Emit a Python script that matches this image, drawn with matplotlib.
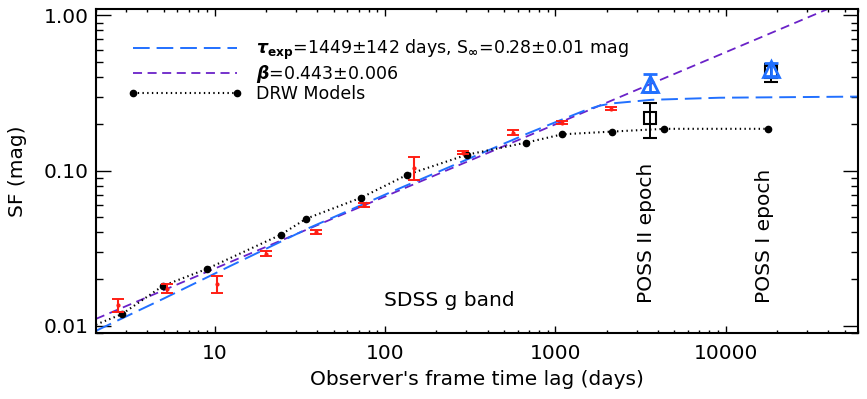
import numpy as np
import matplotlib
matplotlib.use('Agg')
import matplotlib.pyplot as plt
import matplotlib.transforms as mtransforms
from matplotlib.lines import Line2D
from matplotlib.ticker import FixedLocator, FixedFormatter, LogLocator, NullFormatter

# SDSS g band measured structure function (red error bars)
sdss_t = [2.69, 5.22, 10.3, 20.0, 39.3, 75.2, 148, 288, 566, 1100, 2135]
sdss_sf = [0.0137, 0.0173, 0.0187, 0.0292, 0.0404, 0.0603, 0.1045, 0.1306, 0.176, 0.204, 0.251]
sdss_lo = [0.0014, 0.0010, 0.0024, 0.0012, 0.0011, 0.0016, 0.0170, 0.0032, 0.0055, 0.0055, 0.0060]
sdss_hi = [0.0012, 0.0014, 0.0023, 0.0012, 0.0011, 0.0016, 0.0185, 0.0032, 0.0055, 0.0055, 0.0060]

# DRW model points (black dots, dotted line)
drw_t = [2.84, 4.94, 8.97, 24.4, 34.3, 72.3, 135, 303, 675, 1100, 2160, 4375, 17660]
drw_sf = [0.0119, 0.0181, 0.0233, 0.0387, 0.0490, 0.0670, 0.0942, 0.1268, 0.1517,
          0.1715, 0.1786, 0.186, 0.186]
drw_start_t = 2.0
drw_start_sf = 0.0102

# exponential (DRW) fit curve
fit_t = [2, 5, 12, 36, 106, 300, 700, 1100, 1500, 1816, 2135, 3670, 9200, 60000]
fit_sf = [0.0093, 0.0150, 0.0240, 0.0429, 0.0721, 0.1176, 0.175, 0.214, 0.245,
          0.262, 0.271, 0.286, 0.295, 0.300]

# power law fit, two ends of the purple dashed line
pl_t = [2, 60000]
pl_sf = [0.0111, 1.33]

# POSS epochs
poss_t = [3620, 18400]
tri_sf = [0.364, 0.449]
tri_lo = [0.045, 0.039]
tri_hi = [0.058, 0.048]
sq_sf = [0.220, 0.429]
sq_lo = [0.057, 0.059]
sq_hi = [0.051, 0.061]

poss_labels = ['POSS II epoch', 'POSS I epoch']
poss_label_t = [3430, 16950]

xticks = [10, 100, 1000, 10000]
xticklabels = ['10', '100', '1000', '10000']
yticks = [0.01, 0.1, 1.0]
yticklabels = ['0.01', '0.10', '1.00']

red = '#ff1e14'
blue = '#2170ff'
purple = '#6a22c8'

plt.rcParams['font.family'] = 'DejaVu Sans'
plt.rcParams['mathtext.fontset'] = 'dejavusans'
plt.rcParams['lines.scale_dashes'] = False
fs = 14.5
fs_leg = 12.5

fig = plt.figure(figsize=(8.67, 3.99), dpi=100)
ax = fig.add_axes([96/867, 1-333/399, (858-96)/867, (333-9)/399])
ax.set_xscale('log')
ax.set_yscale('log')
ax.set_xlim(2, 60000)
ax.set_ylim(0.009, 1.1)

ax.plot(pl_t, pl_sf, color=purple, lw=1.3, dashes=(6.5, 4), zorder=2)
ax.plot(fit_t, fit_sf, color=blue, lw=1.4, dashes=(12, 5), zorder=2)
ax.plot([drw_start_t] + drw_t, [drw_start_sf] + drw_sf, color='k', lw=1.5,
        ls=(0, (1, 2.4)), zorder=3)
ax.plot(drw_t, drw_sf, 'o', color='k', ms=4.5, zorder=4)

ax.errorbar(sdss_t, sdss_sf, yerr=[sdss_lo, sdss_hi], fmt='o', ms=2, color=red,
            ecolor=red, elinewidth=1.5, capsize=4, capthick=1.4, zorder=5)
ax.errorbar(poss_t, sq_sf, yerr=[sq_lo, sq_hi], fmt='s', ms=9, mfc='none', mec='k',
            mew=1.5, ecolor='k', elinewidth=1.4, capsize=5, capthick=1.4, zorder=5)
ax.errorbar(poss_t, tri_sf, yerr=[tri_lo, tri_hi], fmt='^', ms=11, mfc='none', mec=blue,
            mew=2, ecolor=blue, elinewidth=2, capsize=5, capthick=2, zorder=6)

ax.text(238, 0.0145, 'SDSS g band', ha='center', va='center', fontsize=fs)
blend = mtransforms.blended_transform_factory(ax.transData, ax.transAxes)
for t, lab in zip(poss_label_t, poss_labels):
    ax.text(t, 0.093, lab, rotation=90, ha='center', va='bottom', fontsize=fs,
            transform=blend)

handles = [Line2D([], [], color=blue, lw=1.4, dashes=(12, 5)),
           Line2D([], [], color=purple, lw=1.3, dashes=(6.5, 4)),
           Line2D([], [], color='k', lw=1.5, ls=(0, (1, 2.4)), marker='o', ms=4.5)]
labels = [r'$\mathbfit{\tau}_{\mathbf{exp}}$=1449±142 days, S$_{\mathbf{\infty}}$=0.28±0.01 mag',
          r'$\mathbfit{\beta}$=0.443±0.006',
          'DRW Models']
ax.legend(handles, labels, loc='upper left', bbox_to_anchor=(0.042, 0.91),
          frameon=False, fontsize=fs_leg, handlelength=6.6, handletextpad=0.8,
          labelspacing=0.03, borderpad=0, borderaxespad=0, numpoints=2)

ax.xaxis.set_major_locator(FixedLocator(xticks))
ax.xaxis.set_major_formatter(FixedFormatter(xticklabels))
ax.xaxis.set_minor_locator(LogLocator(base=10, subs=np.arange(2, 10)))
ax.xaxis.set_minor_formatter(NullFormatter())
ax.yaxis.set_major_locator(FixedLocator(yticks))
ax.yaxis.set_major_formatter(FixedFormatter(yticklabels))
ax.yaxis.set_minor_locator(LogLocator(base=10, subs=np.arange(2, 10)))
ax.yaxis.set_minor_formatter(NullFormatter())

ax.tick_params(axis='both', which='both', direction='in', top=True, right=True,
               labelsize=fs, width=1.0, color='k')
ax.tick_params(axis='y', which='major', length=11, pad=5)
ax.tick_params(axis='y', which='minor', length=5)
ax.tick_params(axis='x', which='major', length=5, pad=8)
ax.tick_params(axis='x', which='minor', length=2.5)
for sp in ax.spines.values():
    sp.set_linewidth(1.5)

ax.set_xlabel("Observer's frame time lag (days)", fontsize=fs)
ax.set_ylabel('SF (mag)', fontsize=fs)
ax.xaxis.set_label_coords(0.5, -(370-333)/324)
ax.yaxis.set_label_coords(-(96-27)/762, 0.5)

plt.savefig('out.png', dpi=100)
